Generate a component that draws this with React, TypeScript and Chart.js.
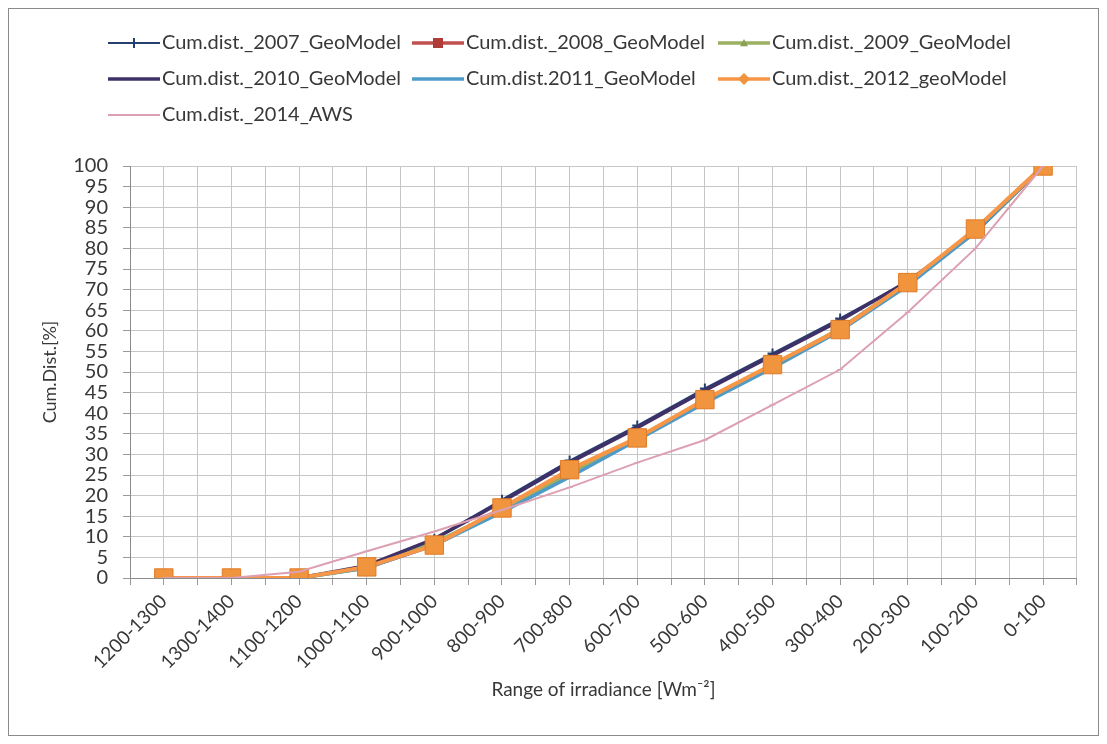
import React, { useEffect, useRef } from 'react';
import { Chart, registerables } from 'chart.js';

Chart.register(...registerables);

// ---- data ----
const categories = [
  '1200-1300', '1300-1400', '1100-1200', '1000-1100', '900-1000', '800-900', '700-800',
  '600-700', '500-600', '400-500', '300-400', '200-300', '100-200', '0-100',
];
const seriesLabels = [
  'Cum.dist._2007_GeoModel',
  'Cum.dist._2008_GeoModel',
  'Cum.dist._2009_GeoModel',
  'Cum.dist._2010_GeoModel',
  'Cum.dist.2011_GeoModel',
  'Cum.dist._2012_geoModel',
  'Cum.dist._2014_AWS',
];
const cum2007 = [0, 0, 0, 3, 9.5, 19, 28.5, 37, 46, 54.5, 63, 72, 84, 100];
const cum2008 = [0, 0, 0, 2.5, 8, 16.5, 25.5, 34, 43, 51.5, 60.5, 71.5, 84.5, 100];
const cum2009 = [0, 0, 0, 2.5, 8.5, 16.5, 25.5, 34, 43, 51.5, 60.5, 71.5, 84, 100];
const cum2010 = [0, 0, 0, 3, 9.5, 18.5, 28, 36.5, 45.5, 54, 62.5, 72, 84, 100];
const cum2011 = [0, 0, 0, 2.5, 8, 16, 24.5, 33.5, 42.5, 51, 60, 71, 84, 100];
const cum2012 = [0, 0, 0, 2.7, 8, 17, 26.3, 34, 43.3, 51.8, 60.3, 71.7, 84.7, 100];
const cum2014 = [0, 0, 1.5, 6.5, 11.3, 16.5, 22, 28, 33.5, 42, 50.6, 64.5, 80, 100];
const yTicks = { min: 0, max: 100, step: 5 };

const seriesValues = [cum2007, cum2008, cum2009, cum2010, cum2011, cum2012, cum2014];

// ---- styles ----
const FONT = 'Lato, "Open Sans", "DejaVu Sans", sans-serif';
const TEXT = '#383838';
const GRID = '#c6c6c6';
const styles = [
  { color: '#253f70', width: 2, point: 'cross', r: 5, fill: '#253f70', legendMarker: 'cross', lm: 5 },
  { color: '#c0504d', width: 3.5, point: 'rect', r: 6, fill: '#b03c39', legendMarker: 'rect', lm: 5 },
  { color: '#9bb060', width: 4, point: 'triangle', r: 4, fill: '#8a9f55', legendMarker: 'triangle', lm: 4 },
  { color: '#3f3167', width: 3.5, point: 'circle', r: 0, fill: '#3f3167', legendMarker: 'none', lm: 0 },
  { color: '#4f9bc8', width: 3.5, point: 'circle', r: 0, fill: '#4f9bc8', legendMarker: 'none', lm: 0 },
  { color: '#f79646', width: 4, point: 'rect', r: 13, fill: '#f0943e', legendMarker: 'rectRot', lm: 6 },
  { color: '#dca0b2', width: 2, point: 'line', r: 3, fill: '#dca0b2', legendMarker: 'none', lm: 0 },
];

function drawMarker(ctx: CanvasRenderingContext2D, kind: string, x: number, y: number, r: number, color: string) {
  ctx.save();
  ctx.fillStyle = color;
  ctx.strokeStyle = color;
  ctx.beginPath();
  if (kind === 'cross') {
    ctx.lineWidth = 2;
    ctx.moveTo(x, y - r);
    ctx.lineTo(x, y + r);
    ctx.moveTo(x - r, y);
    ctx.lineTo(x + r, y);
    ctx.stroke();
  } else if (kind === 'rect') {
    ctx.rect(x - r, y - r, 2 * r, 2 * r);
    ctx.fill();
  } else if (kind === 'rectRot') {
    ctx.moveTo(x, y - r);
    ctx.lineTo(x + r, y);
    ctx.lineTo(x, y + r);
    ctx.lineTo(x - r, y);
    ctx.closePath();
    ctx.fill();
  } else if (kind === 'triangle') {
    ctx.moveTo(x, y - r);
    ctx.lineTo(x + r, y + r * 0.8);
    ctx.lineTo(x - r, y + r * 0.8);
    ctx.closePath();
    ctx.fill();
  }
  ctx.restore();
}

const gridLegend = {
  id: 'gridLegend',
  afterDraw(chart: any) {
    const ctx: CanvasRenderingContext2D = chart.ctx;
    const colX = [99, 403, 709];
    const rowY = [34, 70, 106];
    const lineLen = 52;
    ctx.save();
    chart.data.datasets.forEach((ds: any, i: number) => {
      const st = styles[i];
      const x = colX[i % 3];
      const y = rowY[Math.floor(i / 3)];
      ctx.strokeStyle = st.color;
      ctx.lineWidth = Math.min(st.width, 3.5);
      ctx.beginPath();
      ctx.moveTo(x, y);
      ctx.lineTo(x + lineLen, y);
      ctx.stroke();
      if (st.legendMarker !== 'none') drawMarker(ctx, st.legendMarker, x + lineLen / 2, y, st.lm, st.fill);
      ctx.fillStyle = TEXT;
      ctx.font = `20px ${FONT}`;
      ctx.textBaseline = 'middle';
      ctx.textAlign = 'left';
      ctx.fillText(ds.label, x + lineLen + 2, y);
    });
    ctx.restore();
  },
};

export default function App() {
  const ref = useRef<HTMLCanvasElement>(null);

  useEffect(() => {
    if (!ref.current) return;
    const datasets = seriesValues.map((vals, i) => {
      const st = styles[i];
      return {
        label: seriesLabels[i],
        data: vals.map((v, k) => ({ x: k, y: v })),
        borderColor: st.color,
        backgroundColor: st.fill,
        borderWidth: st.width,
        pointStyle: st.point,
        pointRadius: st.r,
        pointBorderColor: i === 5 ? '#e07a26' : st.fill,
        pointBackgroundColor: st.fill,
        pointBorderWidth: st.point === 'cross' ? 2 : 1,
        tension: 0,
        fill: false,
        order: seriesValues.length - i,
      };
    });
    const chart = new Chart(ref.current, {
      type: 'line',
      data: { datasets },
      plugins: [gridLegend],
      options: {
        animation: false,
        responsive: false,
        maintainAspectRatio: false,
        layout: { padding: { left: 26, right: 8, top: 157, bottom: 30 } },
        plugins: {
          legend: { display: false },
          tooltip: { enabled: false },
        },
        scales: {
          x: {
            type: 'linear',
            min: -0.5,
            max: categories.length - 0.5,
            afterFit: (s: any) => { s.height = 127; },
            ticks: {
              stepSize: 0.5,
              autoSkip: false,
              minRotation: 45,
              maxRotation: 45,
              padding: 5,
              color: TEXT,
              font: { family: FONT, size: 19 },
              callback: (v: any) => (Number.isInteger(v) ? categories[v] : ''),
            },
            grid: { color: GRID, lineWidth: 1, tickLength: 7, tickColor: '#9a9a9a' },
            border: { color: '#8c8c8c', width: 1 },
            title: {
              display: true,
              text: 'Range of irradiance [Wm⁻²]',
              color: TEXT,
              font: { family: FONT, size: 19 },
              padding: 4,
            },
          },
          y: {
            min: yTicks.min,
            max: yTicks.max,
            afterFit: (s: any) => { s.width = 95; },
            ticks: {
              stepSize: yTicks.step,
              autoSkip: false,
              padding: 15,
              color: TEXT,
              font: { family: FONT, size: 20 },
            },
            grid: { color: GRID, lineWidth: 1, tickLength: 7, tickColor: '#9a9a9a' },
            border: { color: '#8c8c8c', width: 1 },
            title: {
              display: true,
              text: 'Cum.Dist.[%]',
              color: TEXT,
              font: { family: FONT, size: 18 },
              padding: 4,
            },
          },
        },
      },
    });
    return () => chart.destroy();
  }, []);

  return (
    <div
      style={{
        width: 1091,
        height: 728,
        border: '1px solid #8a8a8a',
        boxSizing: 'border-box',
        background: '#fff',
        position: 'relative',
      }}
    >
      <canvas ref={ref} width={1089} height={726} style={{ display: 'block' }} />
    </div>
  );
}
